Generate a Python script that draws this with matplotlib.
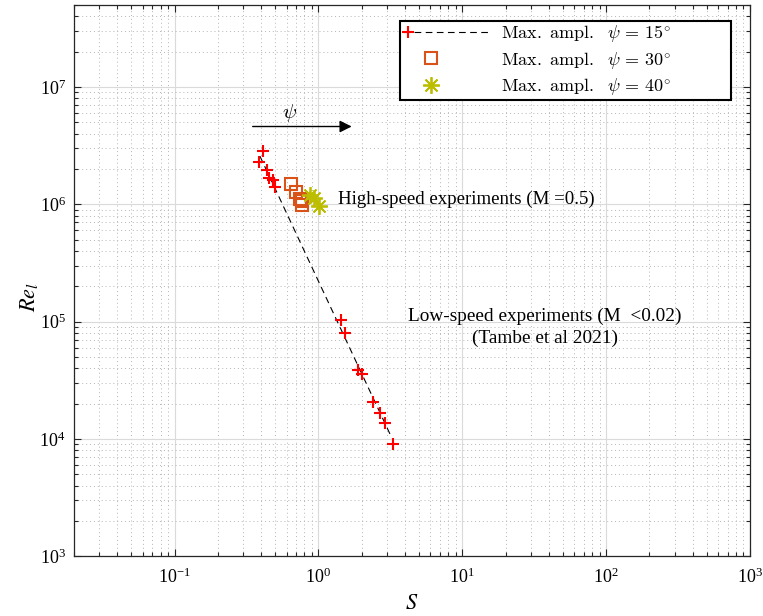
import numpy as np
import matplotlib.pyplot as plt
from matplotlib.legend_handler import HandlerLine2DCompound
from matplotlib.lines import Line2D

plt.rcParams['font.family'] = 'Liberation Serif'
plt.rcParams['mathtext.fontset'] = 'stix'
plt.rcParams['axes.unicode_minus'] = False

# ==============================
# data
# ==============================
# psi = 15 deg (high-speed cluster + low-speed Tambe et al)
s_15 = [0.409, 0.388, 0.440, 0.452, 0.482, 0.498,
        1.44, 1.52, 1.88, 2.01, 2.38, 2.68, 2.92, 3.28]
re_15 = [2.84e6, 2.29e6, 1.95e6, 1.66e6, 1.60e6, 1.40e6,
         1.04e5, 8.0e4, 3.83e4, 3.58e4, 2.05e4, 1.65e4, 1.36e4, 9.0e3]

# psi = 30 deg
s_30 = [0.649, 0.703, 0.741, 0.769, 0.774]
re_30 = [1.48e6, 1.27e6, 1.11e6, 1.06e6, 0.99e6]

# psi = 40 deg
s_40 = [0.877, 0.927, 1.01]
re_40 = [1.20e6, 1.12e6, 0.97e6]

# power-law fit (end points)
fit_s = [0.392, 3.20]
fit_re = [2.57e6, 1.05e4]

labels = [r'$\mathrm{Max.\ ampl.}\ \ \psi\,=\,15^{\circ}$',
          r'$\mathrm{Max.\ ampl.}\ \ \psi\,=\,30^{\circ}$',
          r'$\mathrm{Max.\ ampl.}\ \ \psi\,=\,40^{\circ}$']


class MarkerAtHandler(HandlerLine2DCompound):
    """legend handler: marker placed at a fraction of the handle length"""
    def __init__(self, frac=0.5, **kw):
        super().__init__(**kw)
        self.frac = frac

    def get_xdata(self, legend, xdescent, ydescent, width, height, fontsize):
        xdata, _ = super().get_xdata(legend, xdescent, ydescent, width, height, fontsize)
        x0, x1 = xdata[0], xdata[-1]
        return xdata, [x0 + self.frac * (x1 - x0)]


fig = plt.figure(figsize=(7.63, 6.16), dpi=100)
ax = fig.add_axes([0.097, 0.097, 0.886, 0.895])

ax.plot(fit_s, fit_re, '--', color='k', lw=0.8, dashes=(6, 4))
ax.plot(s_15, re_15, '+', color='red', ms=9, mew=1.5)
ax.plot(s_30, re_30, 's', mfc='none', mec='#D95319', ms=8, mew=1.5)
ax.plot(s_40, re_40, ls='none', marker=(8, 2, 0), color='#BDBD00', ms=12, mew=1.3)

ax.set_xscale('log')
ax.set_yscale('log')
ax.set_xlim(0.02, 1000)
ax.set_ylim(1e3, 5e7)

# grid MATLAB style
ax.grid(True, which='major', color='#DADADA', lw=0.8, ls='-')
ax.grid(True, which='minor', color='#B5B5B5', lw=0.7, ls=(0, (1, 3)))
ax.set_axisbelow(True)

ax.tick_params(which='both', direction='in', top=True, right=True,
               labelsize=13, color='#262626', width=0.8)
ax.tick_params(axis='x', which='both', pad=8)
ax.tick_params(axis='y', which='both', pad=6)
ax.tick_params(which='major', length=5)
ax.tick_params(which='minor', length=3)
for sp in ax.spines.values():
    sp.set_color('#262626')
    sp.set_linewidth(0.9)

ax.set_xlabel('$S$', fontsize=16, labelpad=6)
ax.set_ylabel('$Re_l$', fontsize=16)
ax.yaxis.set_label_coords(-0.05, 0.47)

# arrow + psi
ax.annotate('', xy=(1.78, 4.6e6), xytext=(0.334, 4.6e6),
            arrowprops=dict(arrowstyle='-|>', color='k', lw=1, mutation_scale=18))
ax.text(0.63, 6.0e6, r'$\psi$', fontsize=15, math_fontfamily='cm',
        ha='center', va='center')

ax.text(1.36, 1.1e6, 'High-speed experiments (M =0.5)', fontsize=13.6,
        ha='left', va='center')
ax.text(37.3, 8.9e4, 'Low-speed experiments (M  <0.02)\n(Tambe et al 2021)',
        fontsize=13.9, ha='center', va='center', linespacing=1.39)

# legend
h15 = Line2D([], [], color='k', ls='--', dashes=(6, 4), lw=0.8,
             marker='+', mec='red', ms=9, mew=1.5)
h30 = Line2D([], [], ls='none', marker='s', mfc='none', mec='#D95319', ms=8, mew=1.5)
h40 = Line2D([], [], ls='none', marker=(8, 2, 0), color='#BDBD00', ms=12, mew=1.3)
leg = ax.legend([h15, h30, h40], labels, loc='lower left', mode='expand',
                bbox_to_anchor=(0.482, 0.828, 0.49, 0), fancybox=False, framealpha=1,
                edgecolor='k', handlelength=4.9, handletextpad=0.55,
                borderpad=0.15, labelspacing=0.3, borderaxespad=0,
                prop=dict(size=13, math_fontfamily='cm'),
                handler_map={h15: MarkerAtHandler(0.06, numpoints=1),
                             h30: MarkerAtHandler(0.32, numpoints=1),
                             h40: MarkerAtHandler(0.32, numpoints=1)})
leg.get_frame().set_linewidth(1.5)

fig.savefig('out.png', dpi=100)
